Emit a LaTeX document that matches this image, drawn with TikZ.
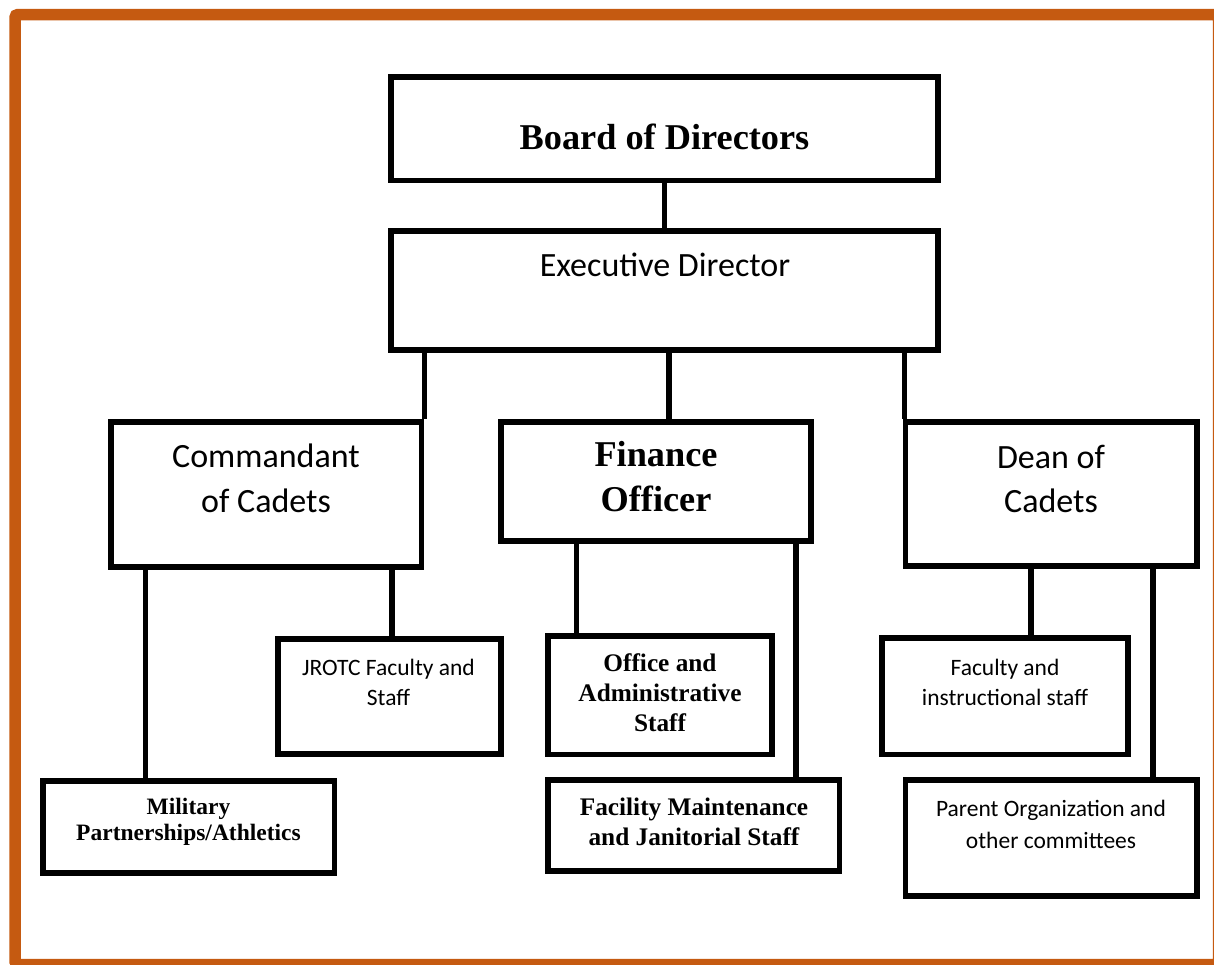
\documentclass[tikz,border=0pt]{standalone}
\usepackage{fontspec}
\setmainfont{Liberation Serif}
\newfontfamily\calibri{Carlito}
\definecolor{frameorange}{RGB}{197,90,17}

\begin{document}
\begin{tikzpicture}[x=1pt,y=-1pt]
    \tikzstyle{box}=[draw,line width=5.5pt,rectangle,inner sep=0pt]
    \tikzstyle{link}=[line width=5.5pt]
    \tikzstyle{txt}=[align=center,anchor=base,inner sep=0pt]
    \tikzstyle{bigsans}=[txt,font=\calibri\fontsize{34}{44.5}\selectfont]
    \tikzstyle{smallsans}=[txt,font=\calibri\fontsize{23.5}{30}\selectfont]
    \tikzstyle{bigserif}=[txt,font=\bfseries\fontsize{36.3}{45}\selectfont]
    \tikzstyle{smallserif}=[txt,font=\bfseries\fontsize{25.3}{30}\selectfont]
    \useasboundingbox (0,0) rectangle (1214,964);
    \clip (0,0) rectangle (1214,964);
    % Frame
    \draw[frameorange,line width=11.5pt,rounded corners=3pt] (15,14.5) rectangle (1218.5,964.5);
    % Boxes
    \node[box,minimum width=547pt,minimum height=103.5pt] (board) at (664.5,128.5) {};
    \node[box,minimum width=547pt,minimum height=119pt] (exec) at (664.5,290.5) {};
    \node[box,minimum width=310.5pt,minimum height=145pt] (comm) at (266.25,494.5) {};
    \node[box,minimum width=310pt,minimum height=119pt] (fin) at (656,481.5) {};
    \node[box,minimum width=291.5pt,minimum height=144pt] (dean) at (1051.25,494) {};
    \node[box,minimum width=223pt,minimum height=115pt] (jrotc) at (389.5,696.5) {};
    \node[box,minimum width=224pt,minimum height=118.5pt] (office) at (660,695.25) {};
    \node[box,minimum width=246pt,minimum height=116.5pt] (faculty) at (1005,696.25) {};
    \node[box,minimum width=291.5pt,minimum height=92pt] (mil) at (188.75,827) {};
    \node[box,minimum width=291.5pt,minimum height=91pt] (facil) at (693.75,825.5) {};
    \node[box,minimum width=291.5pt,minimum height=116pt] (parent) at (1051.25,838) {};
    % Labels (base = last line)
    \node[bigserif] (boardtxt) at (664.5,149.3) {Board of Directors};
    \node[bigsans] (exectxt) at (665,276.5) {Executive Director};
    \node[bigsans] (commtxt) at (266,512) {Commandant\\of Cadets};
    \node[bigserif] (fintxt) at (656,511.7) {Finance\\Officer};
    \node[bigsans] (deantxt) at (1051,512.5) {Dean of\\Cadets};
    \node[smallsans] (jrotctxt) at (388.5,705) {JROTC Faculty and\\Staff};
    \node[smallserif] (officetxt) at (660,731.7) {Office and\\Administrative\\Staff};
    \node[smallsans] (facultytxt) at (1005,705) {Faculty and\\instructional staff};
    \node[smallserif,font=\bfseries\fontsize{23.5}{26}\selectfont] (miltxt) at (188.5,840) {Military\\Partnerships/Athletics};
    \node[smallserif] (faciltxt) at (694,845) {Facility Maintenance\\and Janitorial Staff};
    \node[smallsans,font=\calibri\fontsize{23.5}{31.5}\selectfont] (parenttxt) at (1051,848.3) {Parent Organization and\\other committees};
    % Links
    \draw[link] (board.south) -- (exec.north);
    \draw[link] (comm.north east |- exec.south) -- (comm.north east);
    \draw[link] ([xshift=13pt]fin.north |- exec.south) -- ([xshift=13pt]fin.north);
    \draw[link] ([xshift=1.5pt]dean.north west |- exec.south) -- ([xshift=1.5pt]dean.north west);
    \draw[link] ([xshift=37pt]comm.south west) -- ([xshift=37pt]comm.south west |- mil.north);
    \draw[link] ([xshift=2.5pt]jrotc.north |- comm.south) -- ([xshift=2.5pt]jrotc.north);
    \draw[link] ([xshift=31pt]office.north west |- fin.south) -- ([xshift=31pt]office.north west);
    \draw[link] ([xshift=-46.5pt]facil.north east |- fin.south) -- ([xshift=-46.5pt]facil.north east);
    \draw[link] ([xshift=26pt]faculty.north |- dean.south) -- ([xshift=26pt]faculty.north);
    \draw[link] ([xshift=-47pt]parent.north east |- dean.south) -- ([xshift=-47pt]parent.north east);
\end{tikzpicture}
\end{document}
